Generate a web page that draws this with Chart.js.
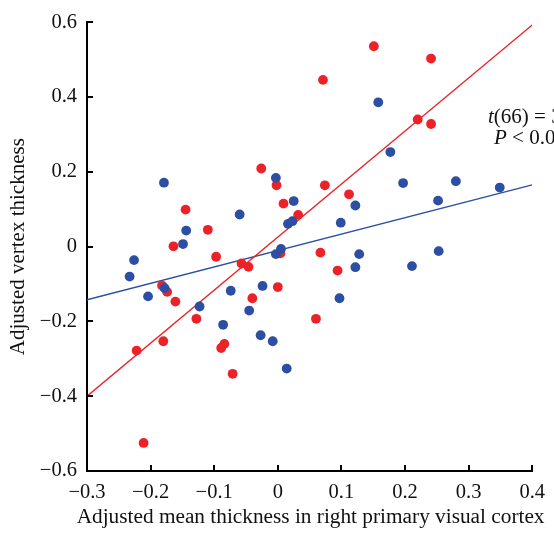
<!DOCTYPE html>
<html>
<head>
<meta charset="utf-8">
<script src="https://cdn.jsdelivr.net/npm/chart.js@4.4.1/dist/chart.umd.min.js"></script>
<style>
  html, body { margin: 0; padding: 0; background: #fff; }
</style>
</head>
<body>
<canvas id="thickness" width="554" height="537"></canvas>
<script>
// group 1 (red)
const redX = [0.151, 0.241, 0.071, 0.220, 0.241, -0.026, -0.002, 0.074, 0.112, 0.009,
  -0.145, 0.032, -0.110, -0.164, 0.004, 0.067, -0.097, -0.057, -0.046, 0.094,
  -0.182, -0.174, 0.000, -0.040, -0.161, 0.060, -0.128, -0.222, -0.180, -0.084,
  -0.089, -0.071, -0.211];
const redY = [0.536, 0.503, 0.446, 0.340, 0.328, 0.209, 0.164, 0.164, 0.140, 0.115,
  0.099, 0.085, 0.045, 0.001, -0.018, -0.016, -0.027, -0.045, -0.054, -0.064,
  -0.104, -0.121, -0.108, -0.138, -0.147, -0.193, -0.193, -0.278, -0.253, -0.260,
  -0.271, -0.340, -0.525];

// group 2 (blue)
const blueX = [0.158, 0.177, -0.003, 0.197, 0.280, -0.179, 0.349, 0.025, 0.252, 0.122,
  -0.060, 0.016, 0.023, 0.099, -0.144, -0.149, -0.226, -0.003, 0.005, 0.128,
  0.253, 0.122, 0.211, -0.233, -0.178, -0.204, -0.074, -0.024, 0.097, -0.123,
  -0.045, -0.086, -0.027, -0.008, 0.014];
const blueY = [0.386, 0.253, 0.184, 0.170, 0.175, 0.171, 0.158, 0.122, 0.123, 0.110,
  0.086, 0.061, 0.068, 0.064, 0.043, 0.007, -0.036, -0.020, -0.006, -0.020,
  -0.012, -0.055, -0.052, -0.080, -0.111, -0.133, -0.118, -0.105, -0.138, -0.160,
  -0.171, -0.209, -0.237, -0.253, -0.326];

// regression lines, end points at the axis limits
const redFitX = [-0.3, 0.4];
const redFitY = [-0.4, 0.593];
const blueFitX = [-0.3, 0.4];
const blueFitY = [-0.142, 0.165];

const xTicks = [-0.3, -0.2, -0.1, 0, 0.1, 0.2, 0.3, 0.4];
const yTicks = [-0.6, -0.4, -0.2, 0, 0.2, 0.4, 0.6];

const xTitle = "Adjusted mean thickness in right primary visual cortex";
const yTitle = "Adjusted vertex thickness";

// stat text, pieces are [text, italic]
const statLine1 = [["t", true], ["(66) = 3.12,", false]];
const statLine2 = [["P", true], [" < 0.01", false]];

const RED = "#ec2228";
const BLUE = "#2c4ea3";
const SERIF = "'Liberation Serif', 'DejaVu Serif', serif";

function pts(xs, ys) {
  return xs.map((x, i) => ({ x: x, y: ys[i] }));
}

function fmt(v) {
  if (Math.abs(v) < 1e-9) return "0";
  return (v < 0 ? "\u2212" : "") + Math.abs(v).toFixed(1);
}

// short inward tick marks on both axes
const innerTicks = {
  id: "innerTicks",
  afterDraw(chart) {
    const ctx = chart.ctx;
    const xs = chart.scales.x;
    const ys = chart.scales.y;
    const area = chart.chartArea;
    ctx.save();
    ctx.strokeStyle = "#000";
    ctx.lineWidth = 2;
    ctx.beginPath();
    xTicks.forEach((v) => {
      const px = Math.round(xs.getPixelForValue(v));
      ctx.moveTo(px, area.bottom);
      ctx.lineTo(px, area.bottom - 6);
    });
    yTicks.forEach((v) => {
      const py = Math.round(ys.getPixelForValue(v));
      ctx.moveTo(area.left, py);
      ctx.lineTo(area.left + 6, py);
    });
    ctx.stroke();
    ctx.restore();
  },
};

function drawPieces(ctx, pieces, x, y) {
  pieces.forEach(([txt, italic]) => {
    ctx.font = (italic ? "italic " : "") + "21px " + SERIF;
    ctx.fillText(txt, x, y);
    x += ctx.measureText(txt).width;
  });
}

// x title is wider than the axis, so it is drawn here without a width limit
const textLayer = {
  id: "textLayer",
  afterDraw(chart) {
    const ctx = chart.ctx;
    const area = chart.chartArea;
    ctx.save();
    ctx.fillStyle = "#111";
    ctx.textBaseline = "alphabetic";
    ctx.textAlign = "center";
    ctx.font = "21.3px " + SERIF;
    ctx.fillText(xTitle, (area.left + area.right) / 2 + 1, 523);
    ctx.textAlign = "left";
    drawPieces(ctx, statLine1, 488, 123);
    drawPieces(ctx, statLine2, 494, 144);
    ctx.restore();
  },
};

new Chart(document.getElementById("thickness"), {
  type: "scatter",
  data: {
    datasets: [
      {
        label: "fit red",
        data: pts(redFitX, redFitY),
        showLine: true,
        borderColor: RED,
        borderWidth: 1.3,
        pointRadius: 0,
        order: 3,
      },
      {
        label: "fit blue",
        data: pts(blueFitX, blueFitY),
        showLine: true,
        borderColor: BLUE,
        borderWidth: 1.3,
        pointRadius: 0,
        order: 3,
      },
      {
        label: "red",
        data: pts(redX, redY),
        backgroundColor: RED,
        borderWidth: 0,
        pointRadius: 4.9,
        order: 2,
      },
      {
        label: "blue",
        data: pts(blueX, blueY),
        backgroundColor: BLUE,
        borderWidth: 0,
        pointRadius: 4.9,
        order: 1,
      },
    ],
  },
  options: {
    responsive: false,
    animation: false,
    devicePixelRatio: 1,
    layout: {
      padding: { top: 20, right: 14, left: 0, bottom: 0 },
    },
    plugins: {
      legend: { display: false },
      tooltip: { enabled: false },
    },
    scales: {
      x: {
        type: "linear",
        min: -0.3,
        max: 0.4,
        afterBuildTicks: (scale) => {
          scale.ticks = xTicks.map((v) => ({ value: v }));
        },
        afterFit: (scale) => {
          scale.height = 66;
        },
        grid: { display: false, drawTicks: false },
        border: { display: true, color: "#000", width: 2 },
        ticks: {
          color: "#111",
          padding: 9,
          maxRotation: 0,
          autoSkip: false,
          font: { family: SERIF, size: 20.5 },
          callback: (v) => fmt(v),
        },
        title: { display: false },
      },
      y: {
        type: "linear",
        min: -0.6,
        max: 0.6,
        afterBuildTicks: (scale) => {
          scale.ticks = yTicks.map((v) => ({ value: v }));
        },
        afterFit: (scale) => {
          scale.width = 87;
        },
        grid: { display: false, drawTicks: false },
        border: { display: true, color: "#000", width: 2 },
        ticks: {
          color: "#111",
          padding: 10,
          autoSkip: false,
          font: { family: SERIF, size: 20.5 },
          callback: (v) => fmt(v),
        },
        title: {
          display: true,
          text: yTitle,
          color: "#111",
          padding: { top: 6, bottom: 0 },
          font: { family: SERIF, size: 21 },
        },
      },
    },
  },
  plugins: [innerTicks, textLayer],
});
</script>
</body>
</html>
